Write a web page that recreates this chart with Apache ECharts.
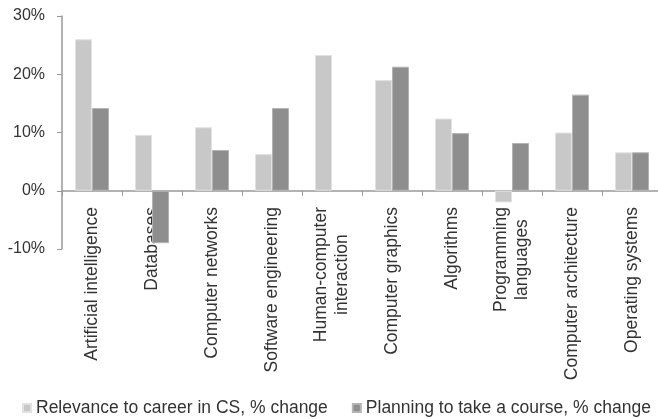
<!DOCTYPE html>
<html>
<head>
<meta charset="utf-8">
<script src="https://cdn.jsdelivr.net/npm/echarts@6/dist/echarts.min.js"></script>
<style>html,body{margin:0;padding:0;background:#fff}#c{width:658px;height:419px}</style>
</head>
<body>
<div id="c"></div>
<script>
const categories = ["Artificial intelligence", "Databases", "Computer networks", "Software engineering", "Human-computer\ninteraction", "Computer graphics", "Algorithms", "Programming\nlanguages", "Computer architecture", "Operating systems"];
const relevance = [26.0, 9.6, 10.9, 6.3, 23.3, 19.0, 12.4, -2.0, 10.0, 6.6];
const planning = [14.2, -9.0, 7.0, 14.2, 0, 21.3, 9.9, 8.2, 16.5, 6.6];
const seriesNames = ["Relevance to career in CS, % change", "Planning to take a course, % change"];
const yTicks = [-10, 0, 10, 20, 30];

const FONT = "'Liberation Sans', Arial, sans-serif";
const chart = echarts.init(document.getElementById('c'), null, {renderer: 'canvas'});
chart.setOption({
  animation: false,
  backgroundColor: '#fff',
  grid: {left: 62, top: 16, width: 600, height: 233, containLabel: false, outerBoundsMode: 'none'},
  legend: {
    left: 17, top: 394, width: 650,
    itemWidth: 8, itemHeight: 8, itemGap: 24,
    icon: 'rect',
    textStyle: {fontFamily: FONT, fontSize: 17.5, color: '#333'},
    data: seriesNames
  },
  xAxis: {
    type: 'category',
    data: categories,
    axisLine: {onZero: true, lineStyle: {color: '#999', width: 1.5}},
    axisTick: {show: true, length: 5, lineStyle: {color: '#999'}, alignWithLabel: false},
    axisLabel: {
      rotate: 90, margin: -42, interval: 0,
      fontFamily: FONT, fontSize: 17.5, color: '#333', lineHeight: 21,
      formatter: function (v) {
        return v.split('\n').map(function (s) { return '{c|' + s + '}'; }).join('\n');
      },
      rich: {c: {align: 'center', fontFamily: FONT, fontSize: 17.5, color: '#333', lineHeight: 21}}
    },
    splitLine: {show: false}
  },
  yAxis: {
    type: 'value',
    min: yTicks[0], max: yTicks[yTicks.length - 1], interval: 10,
    axisLine: {show: true, lineStyle: {color: '#999', width: 1.5}},
    axisTick: {show: true, length: 5, lineStyle: {color: '#999'}},
    axisLabel: {margin: 17, fontFamily: FONT, fontSize: 16, color: '#333', formatter: '{value}%'},
    splitLine: {show: false}
  },
  series: [
    {name: seriesNames[0], type: 'bar', data: relevance, barWidth: 17, barGap: '0%',
     itemStyle: {color: '#c8c8c8', borderColor: '#e2e2e2', borderWidth: 1}},
    {name: seriesNames[1], type: 'bar', data: planning, barWidth: 17, barGap: '0%',
     itemStyle: {color: '#8e8e8e', borderColor: '#b4b4b4', borderWidth: 1}}
  ]
});
</script>
</body>
</html>
